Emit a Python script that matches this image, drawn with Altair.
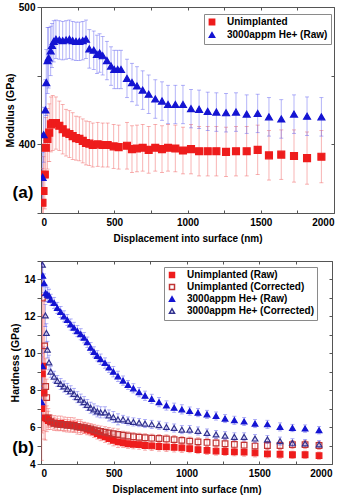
import altair as alt
import pandas as pd

FONT = "Liberation Sans"

# ---------------- (a) Modulus ----------------
mod_he_d = [11, 18, 30, 36, 45, 52, 66, 75, 87,
            102, 125, 148, 171, 194, 216, 239, 262, 285, 307,
            330, 360, 382, 400, 421, 450, 478, 500, 523, 546,
            587, 621, 655, 694, 735, 780, 826, 867, 917, 969,
            1024, 1079, 1138, 1197, 1263, 1331, 1404, 1479, 1556, 1640,
            1727, 1816, 1914]
mod_he_v = [376, 407, 425, 445, 461, 463, 468, 472, 475,
            476.5, 476, 475.5, 476, 476.5, 475.5, 475, 475, 475.5, 476.5,
            469.5, 468.5, 465.5, 466.5, 464.5, 461, 457, 454.5, 454.5, 454.5,
            448, 445, 442.5, 439.5, 436.5, 433, 431.5, 429, 429, 429,
            426, 425.5, 424, 423.5, 423, 423.5, 422, 422.5, 420, 418.5,
            422, 420.5, 420]
mod_he_e = [18, 20, 22, 24, 24, 22, 18, 16, 15] + [14] * 43

mod_un_d = [10, 17, 26, 33, 44, 56, 68, 80,
            102, 125, 148, 171, 194, 216, 239, 262, 285, 307,
            330, 353, 387, 421, 455, 496, 530,
            587, 621, 655, 694, 735, 780, 826, 867, 917, 969,
            1024, 1079, 1138, 1197, 1263, 1331, 1404, 1479, 1556, 1640,
            1727, 1816, 1914]
mod_un_v = [357.5, 366, 378, 397.5, 404, 408.5, 414.5, 415.5,
            415.5, 413.5, 411, 408.5, 407.5, 406, 404.5, 404, 402.5, 401,
            400.5, 399.5, 400, 399.5, 399.5, 398.5, 398,
            399, 396.5, 397, 397.5, 396, 397.5, 396.5, 397.5, 397, 395.5,
            396.5, 395, 395, 395, 394.5, 395, 395, 396, 392, 392.5,
            391.5, 390, 391]
mod_un_e = ([25, 25, 25, 22, 22, 21, 20, 20]
            + [19, 18, 18, 17, 17, 17, 16, 16, 16, 16]
            + [16] * 7 + [17] * 10 + [18] * 10 + [19] * 3)

# ---------------- (b) Hardness ----------------
grid_d = [67, 90, 112, 135, 158, 181, 204, 227, 250, 273,
          296, 318, 341, 364, 387, 410, 440, 467, 497, 529,
          564, 598, 635, 674, 715, 761, 811, 862, 915, 968,
          1022, 1079, 1141, 1203, 1265, 1329, 1396, 1471, 1556, 1643,
          1728, 1815, 1911]

hard_un_raw_d = [5, 9, 16, 21, 30, 40, 50] + grid_d
hard_un_raw_v = [7.0, 8.88, 9.3, 7.85, 6.5, 6.45, 6.36,
                 6.27, 6.22, 6.2, 6.2, 6.15, 6.13, 6.12, 6.1, 6.02, 6.0,
                 5.95, 5.88, 5.83, 5.74, 5.65, 5.56, 5.47, 5.38, 5.28, 5.2,
                 5.15, 5.1, 5.07, 5.05, 5.0, 4.98, 4.95, 4.93, 4.9, 4.87,
                 4.83, 4.78, 4.74, 4.7, 4.68, 4.66, 4.64, 4.6, 4.55, 4.53,
                 4.5, 4.5, 4.45]
hard_un_raw_e = [2.8, 3.2, 3.5, 2.5, 1.2, 0.7, 0.5] + [0.4] * 10 + [0.3] * 10 + [0.25] * 10 + [0.22] * 10 + [0.2] * 3

hard_un_cor_d = [9, 25, 32, 39, 50] + grid_d
hard_un_cor_v = [13.0, 10.4, 8.2, 7.6, 6.5,
                 6.3, 6.2, 6.15, 6.13, 6.12, 6.1, 6.08, 6.05, 6.02, 6.0,
                 5.97, 5.93, 5.9, 5.85, 5.8, 5.76, 5.72, 5.68, 5.64, 5.6,
                 5.56, 5.52, 5.48, 5.45, 5.42, 5.4, 5.38, 5.36, 5.32, 5.28,
                 5.24, 5.2, 5.17, 5.14, 5.1, 5.06, 5.02, 4.97, 5.0, 5.0,
                 5.05, 5.05, 5.0]
hard_un_cor_e = [3.0, 2.5, 1.5, 1.0, 0.5] + [0.3] * 20 + [0.22] * 23

hard_he_raw_d = [5, 10, 12, 21, 32, 44, 55] + grid_d
hard_he_raw_v = [7.35, 9.3, 14.2, 13.8, 13.26, 13.18, 13.12,
                 12.9, 12.73, 12.46, 12.24, 12.0, 11.8, 11.56, 11.38, 11.2, 11.03,
                 10.84, 10.6, 10.3, 10.07, 9.86, 9.68, 9.47, 9.23, 9.0, 8.75,
                 8.52, 8.28, 8.1, 7.89, 7.7, 7.53, 7.35, 7.17, 7.05, 6.96,
                 6.87, 6.78, 6.69, 6.6, 6.46, 6.37, 6.3, 6.19, 6.15, 6.01,
                 5.95, 5.92, 5.83]
hard_he_raw_e = [0.8, 1.0, 0.6, 0.5, 0.45, 0.4, 0.35] + [0.3] * 10 + [0.28] * 10 + [0.25] * 10 + [0.22] * 10 + [0.2] * 3

hard_he_cor_d = [10, 30, 37, 44, 55] + grid_d
hard_he_cor_v = [14.8, 12.05, 11.1, 10.2, 9.5,
                 9.0, 8.73, 8.5, 8.34, 8.2, 8.07, 7.94, 7.8, 7.62, 7.49,
                 7.35, 7.2, 7.05, 6.96, 6.85, 6.8, 6.8, 6.63, 6.54, 6.42,
                 6.42, 6.33, 6.28, 6.24, 6.19, 6.15, 6.1, 6.01, 5.95, 5.86,
                 5.86, 5.79, 5.68, 5.6, 5.53, 5.47, 5.47, 5.38, 5.33, 5.24,
                 5.15, 5.11, 5.06]
hard_he_cor_e = [0.8, 0.6, 0.5, 0.45, 0.4] + [0.3] * 20 + [0.22] * 23

RED = "#ee1c1c"
BLUE = "#1414d2"
RED_OPEN = "#c03434"
BLUE_OPEN = "#30308e"
RED_ERR = "#f06060"
BLUE_ERR = "#6060f0"
FRAME = "#555555"


def series(name, d, v, e):
    return pd.DataFrame({
        "series": name, "d": d, "v": v,
        "lo": [a - b for a, b in zip(v, e)],
        "hi": [a + b for a, b in zip(v, e)],
    })


def panel(df, names, fills, strokes, shapes, errs, ydom, yticks, ylabels,
          ytitle, w, h, msize, lsize, lx, ly, lrow, tag, tag_y):
    xs = alt.Scale(domain=[0, 2000], nice=False, zero=False)
    ys = alt.Scale(domain=ydom, nice=False, zero=False)
    xticks = list(range(0, 2001, 250))
    lab_expr = "indexof(" + str(ylabels) + ", datum.value) >= 0 ? datum.label : ''"

    top_axis = alt.Axis(orient="top", values=xticks, labels=False, title=None,
                        domain=False, grid=False, tickSize=3, offset=-3,
                        tickColor=FRAME)
    right_axis = alt.Axis(orient="right", values=yticks, labels=False, title=None,
                          domain=False, grid=False, tickSize=3, offset=-3,
                          tickColor=FRAME)
    bottom_axis = alt.Axis(orient="bottom", values=xticks, title="Displacement into surface (nm)",
                           format="d",
                           labelExpr="datum.value % 500 == 0 ? datum.label : ''",
                           domain=False, grid=False, tickSize=3, offset=-3,
                           tickColor=FRAME, labelPadding=4, titlePadding=6)
    left_axis = alt.Axis(orient="left", values=yticks, title=ytitle, labelExpr=lab_expr,
                         domain=False, grid=False, tickSize=4, tickColor=FRAME,
                         labelPadding=2, titlePadding=3)

    # error bars with end caps, one layer group per series
    layers = []
    for i, (name, ec) in enumerate(zip(names, errs)):
        base = alt.Chart(df).transform_filter(alt.datum.series == name)
        layers.append(base.mark_rule(color=ec, strokeWidth=0.8, opacity=0.6, clip=True).encode(
            x=alt.X("d:Q", scale=xs, axis=top_axis if i == 0 else None),
            y=alt.Y("lo:Q", scale=ys, axis=right_axis if i == 0 else None),
            y2="hi:Q",
        ))
        for end in ("lo", "hi"):
            layers.append(base.mark_tick(color=ec, orient="horizontal", size=4, thickness=0.8,
                                         opacity=0.6, clip=True).encode(
                x=alt.X("d:Q", scale=xs, axis=None),
                y=alt.Y(end + ":Q", scale=ys, axis=None),
            ))

    leg = alt.Legend(title=None, orient="none", legendX=lx, legendY=ly,
                     strokeColor="#8a8a8a", fillColor="white", padding=3,
                     rowPadding=lrow, symbolSize=lsize,
                     labelFont=FONT, labelFontSize=10, labelFontWeight="bold",
                     labelColor="black", labelOffset=10)
    pts = alt.Chart(df).mark_point(size=msize, strokeWidth=1.2, opacity=1, clip=True).encode(
        x=alt.X("d:Q", scale=xs, axis=bottom_axis),
        y=alt.Y("v:Q", scale=ys, axis=left_axis),
        fill=alt.Fill("series:N", scale=alt.Scale(domain=names, range=fills), legend=leg),
        stroke=alt.Stroke("series:N", scale=alt.Scale(domain=names, range=strokes), legend=leg),
        shape=alt.Shape("series:N", scale=alt.Scale(domain=names, range=shapes), legend=leg),
    )
    layers.append(pts)
    layers.append(alt.Chart(pd.DataFrame({"t": [tag]})).mark_text(
        font=FONT, fontSize=17, fontWeight="bold", align="center", baseline="middle",
        color="black").encode(text="t:N", x=alt.value(-18), y=alt.value(tag_y)))

    return alt.layer(*layers).resolve_axis(
        x="independent", y="independent").properties(width=w, height=h)


mod_df = pd.concat([
    series("Unimplanted", mod_un_d, mod_un_v, mod_un_e),
    series("3000appm He+ (Raw)", mod_he_d, mod_he_v, mod_he_e),
])
hard_df = pd.concat([
    series("Unimplanted (Raw)", hard_un_raw_d, hard_un_raw_v, hard_un_raw_e),
    series("Unimplanted (Corrected)", hard_un_cor_d, hard_un_cor_v, hard_un_cor_e),
    series("3000appm He+ (Raw)", hard_he_raw_d, hard_he_raw_v, hard_he_raw_e),
    series("3000appm He+ (Corrected)", hard_he_cor_d, hard_he_cor_v, hard_he_cor_e),
])

top = panel(
    mod_df, ["Unimplanted", "3000appm He+ (Raw)"],
    [RED, BLUE], [RED, BLUE], ["square", "triangle-up"], [RED_ERR, BLUE_ERR],
    [350, 500], [350, 400, 450, 500], [400, 500], "Modulus (GPa)",
    293, 206, 48, 28, 163, 7, 1, "(a)", 186)

bottom = panel(
    hard_df,
    ["Unimplanted (Raw)", "Unimplanted (Corrected)", "3000appm He+ (Raw)", "3000appm He+ (Corrected)"],
    [RED, "transparent", BLUE, "transparent"],
    [RED, RED_OPEN, BLUE, BLUE_OPEN],
    ["square", "square", "triangle-up", "triangle-up"],
    [RED_ERR, RED_ERR, BLUE_ERR, BLUE_ERR],
    [4, 15], list(range(4, 16)), [4, 6, 8, 10, 12, 14], "Hardness (GPa)",
    291, 203, 32, 25, 123, 6, 0, "(b)", 187)

chart = alt.vconcat(top, bottom, spacing=16).resolve_scale(
    fill="independent", stroke="independent", shape="independent"
).resolve_legend(
    fill="independent", stroke="independent", shape="independent"
).properties(
    padding={"left": 4, "top": 1, "right": 2, "bottom": 2}
).configure_view(stroke=FRAME, strokeWidth=1).configure_axis(
    labelFont=FONT, labelFontSize=10, labelFontWeight="bold", labelColor="black",
    titleFont=FONT, titleFontSize=10.5, titleFontWeight="bold", titleColor="black",
).configure_axisBottom(titleFontSize=10)

chart.save("out.html", embed_options={"renderer": "svg", "actions": False})
